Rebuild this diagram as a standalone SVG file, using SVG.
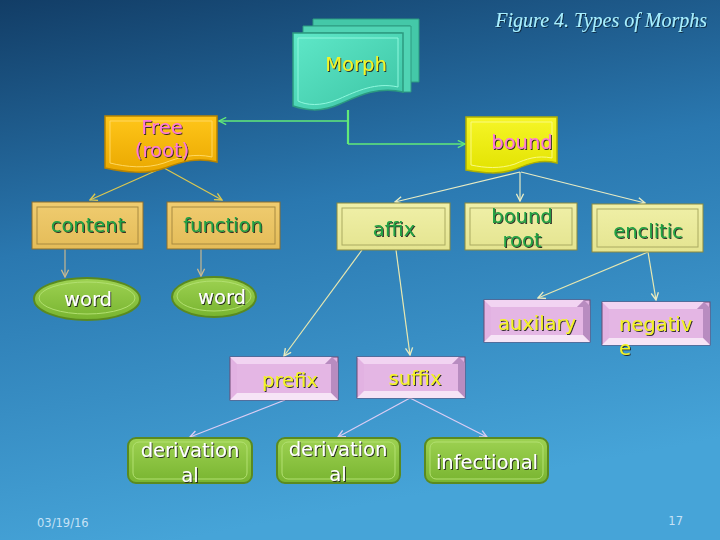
<svg xmlns="http://www.w3.org/2000/svg" width="720" height="540" viewBox="0 0 720 540">
<defs>
<linearGradient id="bg" x1="0" y1="0" x2="0.25" y2="1">
<stop offset="0" stop-color="#123d66"/>
<stop offset="0.45" stop-color="#2a78b0"/>
<stop offset="1" stop-color="#46a4d8"/>
</linearGradient>
<linearGradient id="teal" x1="0" y1="0" x2="1" y2="1">
<stop offset="0" stop-color="#5fe8c8"/>
<stop offset="1" stop-color="#3cc4a4"/>
</linearGradient>
<linearGradient id="gold" x1="0" y1="0" x2="0" y2="1">
<stop offset="0" stop-color="#ffc61a"/>
<stop offset="1" stop-color="#eaa800"/>
</linearGradient>
<linearGradient id="yel" x1="0" y1="0" x2="0" y2="1">
<stop offset="0" stop-color="#f6f628"/>
<stop offset="1" stop-color="#e2e200"/>
</linearGradient>
<linearGradient id="tan" x1="0" y1="0" x2="0" y2="1">
<stop offset="0" stop-color="#f0cc70"/>
<stop offset="1" stop-color="#e4bc58"/>
</linearGradient>
<linearGradient id="pale" x1="0" y1="0" x2="0" y2="1">
<stop offset="0" stop-color="#f0f0a8"/>
<stop offset="1" stop-color="#e4e490"/>
</linearGradient>
<linearGradient id="grn" x1="0" y1="0" x2="0" y2="1">
<stop offset="0" stop-color="#9ed252"/>
<stop offset="1" stop-color="#78b430"/>
</linearGradient>
<filter id="sh" x="-10%" y="-10%" width="130%" height="140%">
<feDropShadow dx="1" dy="1" stdDeviation="0" flood-color="#1a1a1a" flood-opacity="0.9"/>
</filter>
<filter id="sh2" x="-10%" y="-10%" width="130%" height="140%">
<feDropShadow dx="1" dy="1" stdDeviation="0.3" flood-color="#0a2a40" flood-opacity="0.9"/>
</filter>
<marker id="mG" viewBox="0 0 10 10" refX="9" refY="5" markerWidth="9" markerHeight="9" markerUnits="userSpaceOnUse" orient="auto"><path d="M1,1 L9,5 L1,9" fill="none" stroke="#62ea78" stroke-width="1.5"/></marker>
<marker id="mY" viewBox="0 0 10 10" refX="9" refY="5" markerWidth="9" markerHeight="9" markerUnits="userSpaceOnUse" orient="auto"><path d="M1,1 L9,5 L1,9" fill="none" stroke="#dcc850" stroke-width="1.5"/></marker>
<marker id="mP" viewBox="0 0 10 10" refX="9" refY="5" markerWidth="9" markerHeight="9" markerUnits="userSpaceOnUse" orient="auto"><path d="M1,1 L9,5 L1,9" fill="none" stroke="#e8ecc4" stroke-width="1.5"/></marker>
<marker id="mT" viewBox="0 0 10 10" refX="9" refY="5" markerWidth="9" markerHeight="9" markerUnits="userSpaceOnUse" orient="auto"><path d="M1,1 L9,5 L1,9" fill="none" stroke="#c8b890" stroke-width="1.5"/></marker>
<marker id="mL" viewBox="0 0 10 10" refX="9" refY="5" markerWidth="9" markerHeight="9" markerUnits="userSpaceOnUse" orient="auto"><path d="M1,1 L9,5 L1,9" fill="none" stroke="#dccdf4" stroke-width="1.5"/></marker>
</defs>
<style>
.t{font-family:"DejaVu Sans",Verdana,sans-serif;font-size:19.5px;text-anchor:middle;filter:url(#sh)}
.ty{fill:#f4f428}
.tp{fill:#ff7ad8}
.tg{fill:#22a244}
.tw{fill:#ffffff}
.c{fill:none;stroke-width:1.2}
.bevO{stroke:#6a4a72;stroke-width:1}
.ft{font-family:"DejaVu Sans",sans-serif;font-size:11.5px;fill:#c6e2f6}
</style>
<rect x="0" y="0" width="720" height="540" fill="url(#bg)"/>

<text x="707" y="27" font-family="Liberation Serif,serif" font-style="italic" font-size="20" fill="#a8f0ff" text-anchor="end" filter="url(#sh2)">Figure 4. Types of Morphs</text>

<g id="connectors">
<path d="M348,110 V144" fill="none" stroke="#62ea78" stroke-width="2.2"/>
<path d="M348,121 H219" fill="none" stroke="#62ea78" stroke-width="1.3" marker-end="url(#mG)"/>
<path d="M348,144 H465" fill="none" stroke="#62ea78" stroke-width="1.3" marker-end="url(#mG)"/>
<path d="M162,168 L90,200" class="c" stroke="#dcc850" marker-end="url(#mY)"/>
<path d="M164,168 L222,200" class="c" stroke="#dcc850" marker-end="url(#mY)"/>
<path d="M520,172 L395,202" class="c" stroke="#e8ecc4" marker-end="url(#mP)"/>
<path d="M520,172 L520,201" class="c" stroke="#e8ecc4" marker-end="url(#mP)"/>
<path d="M521,172 L645,203" class="c" stroke="#e8ecc4" marker-end="url(#mP)"/>
<path d="M65,249 L65,277" class="c" stroke="#c8b890" marker-end="url(#mT)"/>
<path d="M201,249 L201,276" class="c" stroke="#c8b890" marker-end="url(#mT)"/>
<path d="M362,250 L284,356" class="c" stroke="#e8e8b0" marker-end="url(#mP)"/>
<path d="M396,250 L410,355" class="c" stroke="#e8e8b0" marker-end="url(#mP)"/>
<path d="M648,252 L538,298" class="c" stroke="#e8e8b0" marker-end="url(#mP)"/>
<path d="M648,252 L656,300" class="c" stroke="#e8e8b0" marker-end="url(#mP)"/>
<path d="M285,400 L190,437" class="c" stroke="#dccdf4" marker-end="url(#mL)"/>
<path d="M410,398 L338,437" class="c" stroke="#dccdf4" marker-end="url(#mL)"/>
<path d="M410,398 L487,437" class="c" stroke="#dccdf4" marker-end="url(#mL)"/>
</g>

<g id="morph">
<path d="M313,19 H419 V82 H410 V26 H313 Z" fill="#44c8a8" stroke="#2c9a80" stroke-width="1"/>
<path d="M303,26 H411 V92 H402 V33 H303 Z" fill="#50d4b4" stroke="#2c9a80" stroke-width="1"/>
<path d="M293,33 H403 V92 C378,86 358,96 340,104 C320,113 305,110 293,106 Z" fill="url(#teal)" stroke="#2c9a80" stroke-width="1.5"/>
<path d="M298,38 H398 V87 C376,82 357,91 339,99 C320,107 306,105 298,101 Z" fill="none" stroke="#8ff8de" stroke-width="1"/>
<text x="356" y="71" class="t ty">Morph</text>
</g>

<g id="free">
<path d="M105,116 H217 V162 C196,157 181,162 165,168 C146,175 125,172 105,168 Z" fill="url(#gold)" stroke="#b88400" stroke-width="1.5"/>
<path d="M110,121 H212 V157 C194,153 180,157 164,163 C146,169 126,167 110,163 Z" fill="none" stroke="#ffd860" stroke-width="1"/>
<text x="162" y="134" class="t tp">Free</text>
<text x="162" y="157" class="t tp">(root)</text>
</g>

<g id="bound">
<path d="M466,117 H557 V163 C540,159 528,164 516,169 C500,175 483,173 466,170 Z" fill="url(#yel)" stroke="#b0b000" stroke-width="1.5"/>
<path d="M471,122 H552 V158 C537,155 526,159 515,164 C500,169 485,168 471,165 Z" fill="none" stroke="#fafa80" stroke-width="1"/>
<text x="522" y="149" class="t tp">bound</text>
</g>

<g id="content">
<rect x="32" y="202" width="111" height="47" fill="url(#tan)" stroke="#8a6e30" stroke-width="1"/>
<rect x="37" y="207" width="101" height="37" fill="none" stroke="#a88a40" stroke-width="1"/>
<text x="88" y="232" class="t tg">content</text>
</g>
<g id="function">
<rect x="167" y="202" width="113" height="47" fill="url(#tan)" stroke="#8a6e30" stroke-width="1"/>
<rect x="172" y="207" width="103" height="37" fill="none" stroke="#a88a40" stroke-width="1"/>
<text x="223" y="232" class="t tg">function</text>
</g>
<g id="affix">
<rect x="337" y="203" width="113" height="47" fill="url(#pale)" stroke="#8a8a40" stroke-width="1"/>
<rect x="342" y="208" width="103" height="37" fill="none" stroke="#aaaa60" stroke-width="1"/>
<text x="394" y="236" class="t tg">affix</text>
</g>
<g id="boundroot">
<rect x="465" y="203" width="112" height="47" fill="url(#pale)" stroke="#8a8a40" stroke-width="1"/>
<rect x="470" y="208" width="102" height="37" fill="none" stroke="#aaaa60" stroke-width="1"/>
<text x="522" y="223" class="t tg">bound</text>
<text x="522" y="247" class="t tg">root</text>
</g>
<g id="enclitic">
<rect x="592" y="204" width="111" height="48" fill="url(#pale)" stroke="#8a8a40" stroke-width="1"/>
<rect x="597" y="209" width="101" height="38" fill="none" stroke="#aaaa60" stroke-width="1"/>
<text x="648" y="238" class="t tg">enclitic</text>
</g>

<g id="word1">
<ellipse cx="87" cy="299" rx="53" ry="21" fill="url(#grn)" stroke="#5a8a20" stroke-width="2"/>
<ellipse cx="87" cy="298" rx="48" ry="16" fill="none" stroke="#b2e070" stroke-width="1"/>
<text x="88" y="306" class="t tw">word</text>
</g>
<g id="word2">
<ellipse cx="214" cy="297" rx="42" ry="20" fill="url(#grn)" stroke="#5a8a20" stroke-width="2"/>
<ellipse cx="214" cy="296" rx="37" ry="15" fill="none" stroke="#b2e070" stroke-width="1"/>
<text x="222" y="304" class="t tw">word</text>
</g>

<g id="auxilary">
<rect x="484" y="300" width="106" height="42" fill="#e2b2e2" class="bevO"/>
<polygon points="484,300 584,300 577,307 491,307" fill="#f2d4f2"/>
<polygon points="584,300 590,306 590,342 583,335 577,307" fill="#b88cc0"/>
<polygon points="484,342 590,342 583,335 491,335" fill="#f6e4f6"/>
<rect x="491" y="307" width="92" height="28" fill="#e4b6e4"/>
<text x="537" y="330" class="t ty">auxilary</text>
</g>
<g id="negative">
<rect x="602" y="302" width="108" height="43" fill="#e2b2e2" class="bevO"/>
<polygon points="602,302 704,302 697,309 609,309" fill="#f2d4f2"/>
<polygon points="704,302 710,308 710,345 703,338 697,309" fill="#b88cc0"/>
<polygon points="602,345 710,345 703,338 609,338" fill="#f6e4f6"/>
<rect x="609" y="309" width="94" height="29" fill="#e4b6e4"/>
<text x="619" y="331" class="t ty" text-anchor="start" style="text-anchor:start">negativ</text>
<text x="619" y="355" class="t ty" style="text-anchor:start">e</text>
</g>
<g id="prefix">
<rect x="230" y="357" width="108" height="43" fill="#e2b2e2" class="bevO"/>
<polygon points="230,357 332,357 325,364 237,364" fill="#f2d4f2"/>
<polygon points="332,357 338,363 338,400 331,393 325,364" fill="#b88cc0"/>
<polygon points="230,400 338,400 331,393 237,393" fill="#f6e4f6"/>
<rect x="237" y="364" width="94" height="29" fill="#e4b6e4"/>
<text x="290" y="387" class="t ty">prefix</text>
</g>
<g id="suffix">
<rect x="357" y="357" width="108" height="41" fill="#e2b2e2" class="bevO"/>
<polygon points="357,357 459,357 452,364 364,364" fill="#f2d4f2"/>
<polygon points="459,357 465,363 465,398 458,391 452,364" fill="#b88cc0"/>
<polygon points="357,398 465,398 458,391 364,391" fill="#f6e4f6"/>
<rect x="364" y="364" width="94" height="27" fill="#e4b6e4"/>
<text x="415" y="385" class="t ty">suffix</text>
</g>

<g id="derivational1">
<rect x="128" y="438" width="124" height="45" rx="8" fill="url(#grn)" stroke="#5a8a20" stroke-width="2"/>
<rect x="133" y="442" width="114" height="37" rx="6" fill="none" stroke="#b2e070" stroke-width="1"/>
<text x="190" y="457" class="t tw">derivation</text>
<text x="190" y="482" class="t tw">al</text>
</g>
<g id="derivational2">
<rect x="277" y="438" width="123" height="45" rx="8" fill="url(#grn)" stroke="#5a8a20" stroke-width="2"/>
<rect x="282" y="442" width="113" height="37" rx="6" fill="none" stroke="#b2e070" stroke-width="1"/>
<text x="338" y="456" class="t tw">derivation</text>
<text x="338" y="481" class="t tw">al</text>
</g>
<g id="infectional">
<rect x="425" y="438" width="123" height="45" rx="8" fill="url(#grn)" stroke="#5a8a20" stroke-width="2"/>
<rect x="430" y="442" width="113" height="37" rx="6" fill="none" stroke="#b2e070" stroke-width="1"/>
<text x="487" y="469" class="t tw">infectional</text>
</g>

<text x="37" y="527" class="ft">03/19/16</text>
<text x="683" y="525" class="ft" text-anchor="end">17</text>
</svg>
